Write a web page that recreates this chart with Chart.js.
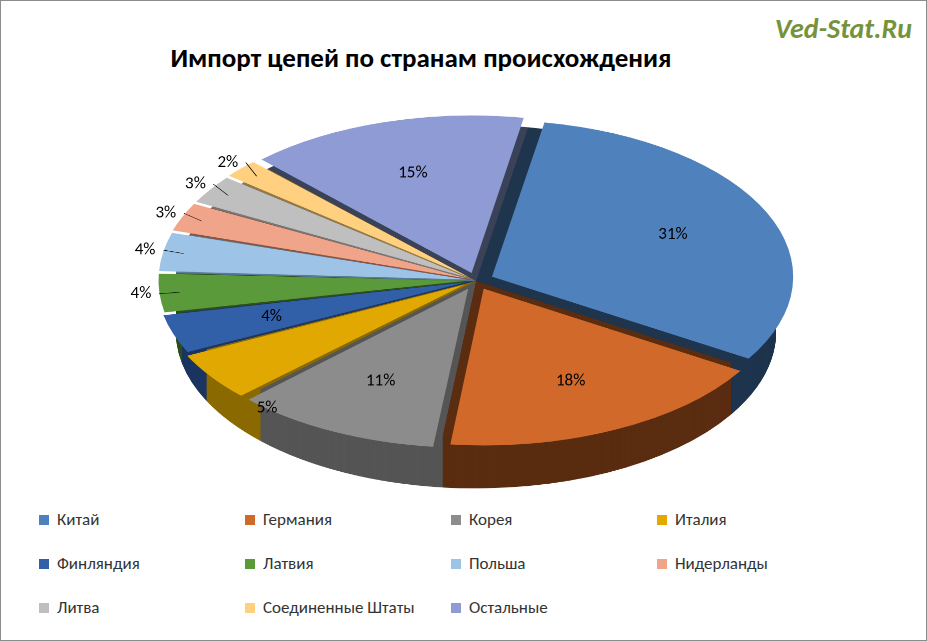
<!DOCTYPE html>
<html><head><meta charset="utf-8">
<script src="https://cdn.jsdelivr.net/npm/chart.js@4/dist/chart.umd.min.js"></script>
<style>
body{margin:0;background:#fff;font-family:Calibri,Carlito,"Liberation Sans","DejaVu Sans",sans-serif;}
#frame{position:absolute;left:0;top:0;width:925px;height:639px;border:1px solid #8c8c8c;overflow:hidden;}
#title{position:absolute;left:0;width:840px;top:40px;text-align:center;font-weight:bold;font-size:27px;color:#000;}
#wm{position:absolute;right:14px;top:10px;font-style:italic;font-weight:bold;font-size:28px;color:#76923c;}
#wrap{position:absolute;left:95px;top:100px;width:760px;height:760px;transform:scaleY(0.52);transform-origin:0 0;}
#legend{position:absolute;left:38px;top:508px;width:860px;font-size:17px;color:#333;}
.li{position:absolute;white-space:nowrap;}
.sw{display:inline-block;width:10px;height:10px;margin-right:8px;vertical-align:0px;}
</style></head><body>
<div id="frame">
<div id="wm">Ved-Stat.Ru</div>
<div id="title">Импорт цепей по странам происхождения</div>
<div id="wrap"><canvas id="c" width="760" height="760"></canvas></div>
<div id="legend"></div>
</div>
<script>
const categories=["Китай","Германия","Корея","Италия","Финляндия","Латвия","Польша","Нидерланды","Литва","Соединенные Штаты","Остальные"];
const values=[31,18,11,5,4,4,4,3,3,2,15];
const colors=["#4f81bd","#d0692a","#8c8c8c","#e0a800","#3160a8","#5a9a3a","#9dc3e6","#f0a48a","#bfbfbf","#ffd080","#8e9bd4"];
const sideColors=["#1f344d","#5a2c10","#555555","#8a6a00","#1c3560","#2e4f1c","#5a7a99","#8a5540","#777777","#9a7a3a","#3a4258"];
const SY=0.52, DEPTH=100;
const depthPlugin={id:'depth',beforeDatasetsDraw(ch){
  const ctx=ch.ctx, arcs=ch.getDatasetMeta(0).data;
  for(let d=DEPTH;d>0;d-=1){
    arcs.forEach((a,i)=>{
      const p=a.getProps(['x','y','startAngle','endAngle','outerRadius'],true);
      ctx.beginPath();ctx.moveTo(p.x,p.y+d);ctx.arc(p.x,p.y+d,p.outerRadius,p.startAngle,p.endAngle);ctx.closePath();
      ctx.fillStyle=sideColors[i];ctx.fill();
    });
  }
}};
const labelPlugin={id:'lbl',afterDatasetsDraw(ch){
  const ctx=ch.ctx, arcs=ch.getDatasetMeta(0).data;
  arcs.forEach((a,i)=>{
    const p=a.getProps(['x','y','startAngle','endAngle','outerRadius'],true);
    const m=(p.startAngle+p.endAngle)/2, small=values[i]<=4&&i!==4;
    const r=small?p.outerRadius*1.12:p.outerRadius*0.72;
    let lx=p.x+Math.cos(m)*r, ly=p.y+Math.sin(m)*r;
    if(i===3){lx=p.x+Math.cos(m)*p.outerRadius*0.85; ly=p.y+Math.sin(m)*p.outerRadius*0.85+DEPTH;}
    if(small){ctx.strokeStyle="#000";ctx.lineWidth=1;ctx.beginPath();
      ctx.moveTo(p.x+Math.cos(m)*p.outerRadius*0.99,p.y+Math.sin(m)*p.outerRadius*0.99);ctx.lineTo(lx+18,ly);ctx.stroke();}
    ctx.save();ctx.translate(lx,ly);ctx.scale(1,1/SY);
    ctx.fillStyle="#000";ctx.font="17px Calibri,Carlito,'Liberation Sans',sans-serif";
    ctx.textAlign="center";ctx.textBaseline="middle";ctx.fillText(values[i]+"%",0,0);ctx.restore();
  });
}};
new Chart(document.getElementById('c'),{type:'pie',
 data:{labels:categories,datasets:[{data:values,backgroundColor:colors,borderWidth:0,offset:[70,70,70,55,45,40,40,40,40,40,60]}]},
 options:{responsive:false,animation:false,rotation:10,layout:{padding:{left:0,right:0,top:10,bottom:80}},
  plugins:{legend:{display:false},tooltip:{enabled:false}}},
 plugins:[depthPlugin,labelPlugin]});
const lg=document.getElementById('legend');
const colX=[0,206,412,618];
categories.forEach((c,i)=>{const d=document.createElement('div');d.className='li';
 d.style.left=colX[i%4]+'px';d.style.top=(Math.floor(i/4)*44)+'px';
 d.innerHTML='<span class="sw" style="background:'+colors[i]+'"></span>'+c;lg.appendChild(d);});
</script>
</body></html>
